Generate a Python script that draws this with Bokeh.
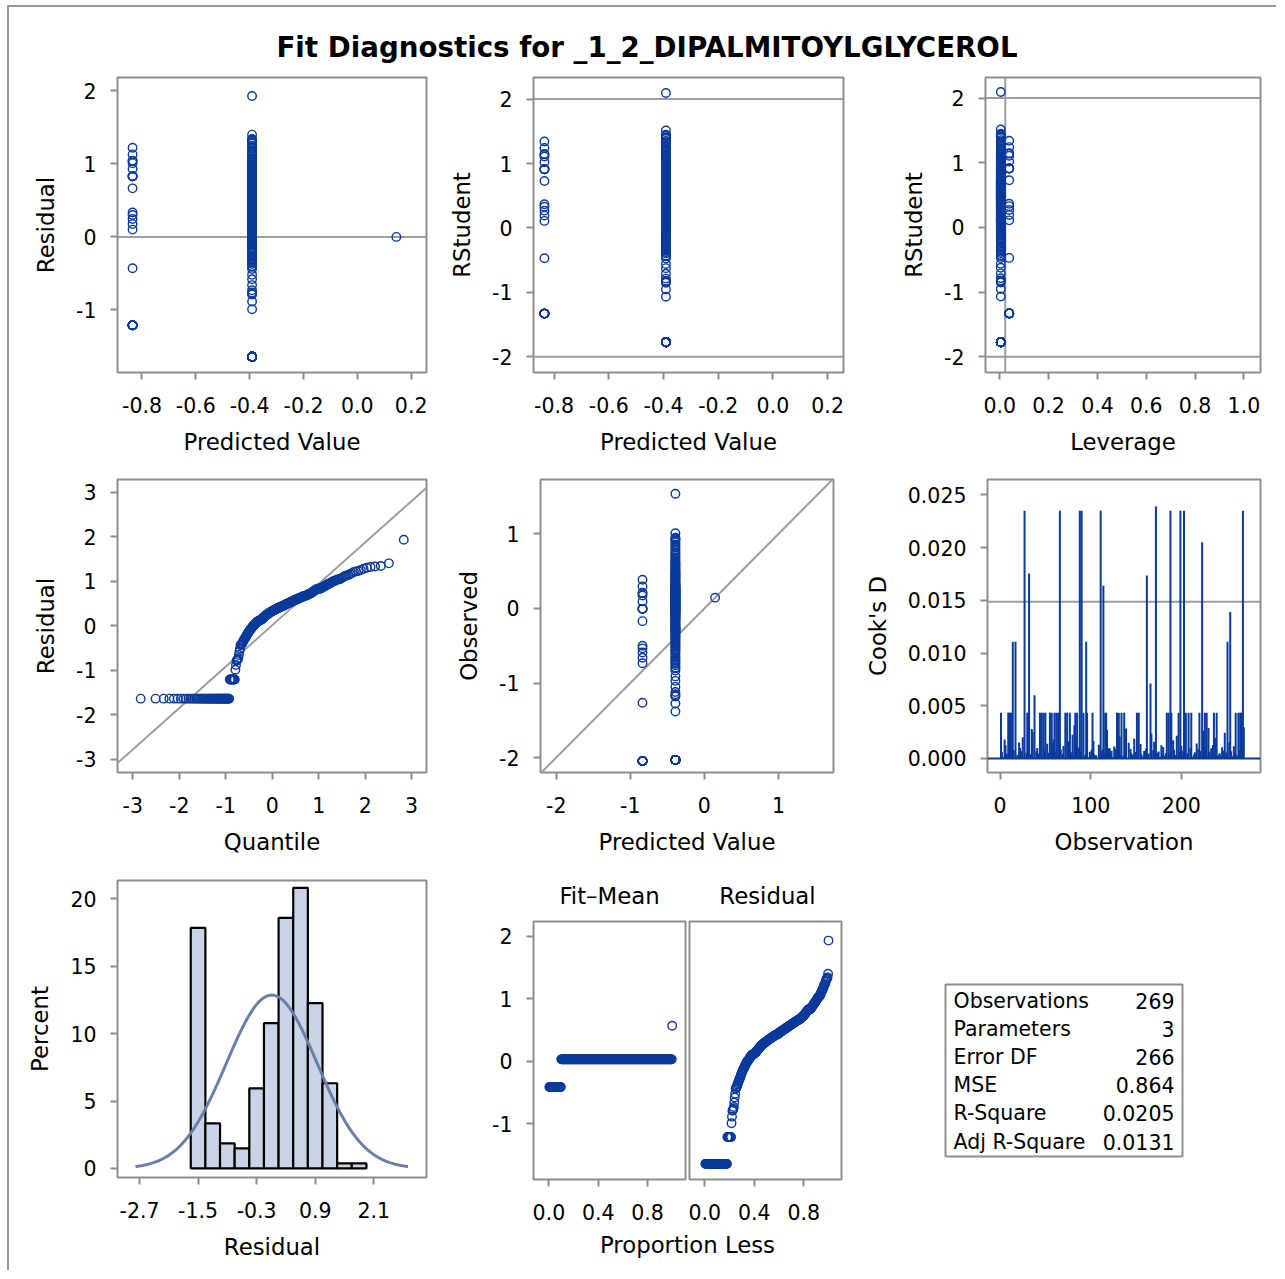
import numpy as np
from statistics import NormalDist
from bokeh.plotting import figure
from bokeh.layouts import row, column
from bokeh.models import Range1d, FixedTicker, PrintfTickFormatter, Span, Spacer, Slope
from bokeh.embed import file_html
from bokeh.resources import INLINE
from bokeh.core.properties import value

# ------------------------------------------------------------------ data
TITLE = "Fit Diagnostics for _1_2_DIPALMITOYLGLYCEROL"

stat_labels = ["Observations", "Parameters", "Error DF", "MSE", "R-Square", "Adj R-Square"]
stat_values = ["269", "3", "266", "0.864", "0.0205", "0.0131"]
N_OBS = 269
N_PARAM = 3
MSE = 0.864

# predicted value of the three fitted levels
fit_levels = [-0.835, -0.391, 0.145]

# level 1 (predicted -0.835): residuals and their observation numbers
res_g1 = [1.22, 1.13, 1.045, 1.04, 1.01, 0.93, 0.83, 0.83, 0.83, 0.83, 0.665,
          0.335, 0.30, 0.245, 0.175, 0.10, -0.43,
          -1.21, -1.21, -1.21, -1.21, -1.21, -1.21, -1.21, -1.21, -1.21]
obs_g1 = [172, 223, 32, 162, 114, 254, 14, 17, 95, 251, 166,
          5, 58, 120, 145, 232, 269,
          27, 66, 88, 90, 111, 188, 199, 203, 268]

# level 2 (predicted -0.391): observations at the lower limit
res_floor = -1.64
obs_floor = [1, 9, 10, 11, 12, 30, 31, 44, 46, 48, 50, 55, 57, 60, 62, 64, 72, 74, 77,
             83, 85, 92, 96, 102, 116, 117, 129, 131, 134, 137, 151, 153, 184, 186,
             189, 197, 205, 208, 211, 220, 226, 228, 236, 239, 260, 263, 265, 266]
# level 2: largest residuals
res_g2_big = [1.93, 1.40, 1.32, 1.33, 1.34]
obs_g2_big = [38, 82, 35, 139, 230]
# level 3 (predicted 0.145): one observation
res_g3 = [0.0]
obs_g3 = [140]
# level 2: remaining residuals, in observation order of the remaining observations
res_g2_rest = [
    0.62, 0.31, -0.09, 0.88, 0.54, 0.42, -0.33, 0.71, 0.08, 0.19,
    0.47, 0.37, 0.97, -0.79, 0.66, 0.12, 1.12, 0.26, -0.19, 0.58,
    0.50, 0.44, 1.25, 0.22, -0.03, 0.64, 0.79, -0.41, 0.56, 0.13,
    0.35, 0.69, 0.05, 0.93, 0.48, -0.58, 0.40, 1.06, 0.61, 0.28,
    -0.12, 0.73, 0.33, 0.52, 0.86, 0.10, 0.17, -0.26, 1.01, 0.60,
    0.55, 1.18, 0.41, -0.99, 0.80, 0.01, 0.67, 0.29, -0.17, 0.46,
    0.24, -0.06, 0.63, 0.38, 0.72, 1.02, 0.49, -0.37, 0.43, 0.14,
    0.09, 0.90, 0.36, 0.65, -0.73, 0.57, 1.30, 0.20, 0.77, 0.51,
    0.68, -0.14, 0.30, 0.84, 0.03, -0.76, 0.53, 1.14, 0.44, -0.23,
    0.39, 0.59, 0.11, 0.96, 0.16, 0.745, -0.44, 0.42, 1.08, 0.47,
    0.62, 0.27, 0.00, 0.92, 0.50, -0.29, 0.35, 0.66, 0.13, 0.76,
    0.43, 0.54, -0.08, 1.21, 0.21, 0.70, 0.99, 0.37, -0.52, 0.58,
    0.64, 0.06, 0.33, -0.885, 0.46, 0.82, 0.40, -0.16, 0.57, 0.12,
    0.52, 0.25, 1.04, 0.72, -0.02, 0.445, 1.16, -0.35, 0.61, 0.87,
    0.38, 0.67, 0.10, 0.18, 0.55, -0.21, 0.78, 0.31, -0.11, 0.48,
    0.60, 0.42, 0.94, 0.07, 0.74, -0.66, 0.26, 1.28, 0.51, 0.83,
    0.34, 0.63, -0.78, 0.29, 0.89, 0.14, 1.10, 0.41, -0.40, 0.56,
    0.49, 0.23, 0.81, 0.68, -0.05, 1.23, 0.39, 0.59, -0.27, 0.98,
    0.65, 0.36, 0.02, 0.85, 0.53, 0.44, -0.31, 0.70, 0.32,
]

hist_mid = [-1.5, -1.2, -0.9, -0.6, -0.3, 0.0, 0.3, 0.6, 0.9, 1.2, 1.5, 1.8]
hist_width = 0.3

panel_headers = ["Fit\u2013Mean", "Residual"]

# tick values
ticks_pred = [-0.8, -0.6, -0.4, -0.2, 0.0, 0.2]
ticks_resid_y = [-1, 0, 1, 2]
ticks_rstud = [-2, -1, 0, 1, 2]
ticks_lev = [0.0, 0.2, 0.4, 0.6, 0.8, 1.0]
ticks_q = [-3, -2, -1, 0, 1, 2, 3]
ticks_obs_pred = [-2, -1, 0, 1]
ticks_cook_y = [0.0, 0.005, 0.010, 0.015, 0.020, 0.025]
ticks_cook_x = [0, 100, 200]
ticks_hist_x = [-2.7, -1.5, -0.3, 0.9, 2.1]
ticks_hist_y = [0, 5, 10, 15, 20]
ticks_prop = [0.0, 0.4, 0.8]
ticks_rf_y = [-1, 0, 1, 2]

# ------------------------------------------------------------------ derived
resid = np.full(N_OBS, np.nan)
fit = np.full(N_OBS, np.nan)
group = np.full(N_OBS, -1)


def put(obs_list, res_list, g):
    for o, r in zip(obs_list, res_list):
        resid[o - 1] = r
        fit[o - 1] = fit_levels[g]
        group[o - 1] = g


put(obs_g1, res_g1, 0)
put(obs_floor, [res_floor] * len(obs_floor), 1)
put(obs_g2_big, res_g2_big, 1)
put(obs_g3, res_g3, 2)
rest = np.where(np.isnan(resid))[0]
assert len(rest) == len(res_g2_rest), (len(rest), len(res_g2_rest))
for i, r in zip(rest, res_g2_rest):
    resid[i] = r
    fit[i] = fit_levels[1]
    group[i] = 1

obs = np.arange(1, N_OBS + 1)
observed = fit + resid
gcount = np.bincount(group, minlength=3)
lev = 1.0 / gcount[group]
valid = lev < 0.999
dfe = N_OBS - N_PARAM
rv, lv, fv, ov = resid[valid], lev[valid], fit[valid], obs[valid]
s2_i = (dfe * MSE - rv ** 2 / (1 - lv)) / (dfe - 1)
rstud = rv / np.sqrt(s2_i * (1 - lv))
cooks = rv ** 2 / (N_PARAM * MSE) * lv / (1 - lv) ** 2

nd = NormalDist()
r_sorted = np.sort(resid)
qq_x = np.array([nd.inv_cdf((i + 1 - 0.375) / (N_OBS + 0.25)) for i in range(N_OBS)])
mean_r = resid.mean()
sd_r = resid.std(ddof=1)

edges = np.array([m - hist_width / 2 for m in hist_mid] + [hist_mid[-1] + hist_width / 2])
hcount, _ = np.histogram(resid, bins=edges)
hpct = hcount / N_OBS * 100
curve_x = np.linspace(mean_r - 3 * sd_r, mean_r + 3 * sd_r, 241)
curve_y = np.array([100 * hist_width * NormalDist(mean_r, sd_r).pdf(x) for x in curve_x])

prop = np.arange(1, N_OBS + 1) / N_OBS
fit_mean_sorted = np.sort(fit - observed.mean())

# ------------------------------------------------------------------ style
FONT = "DejaVu Sans"
BLUE = "#0A3A9C"
FRAME = "#8E8E8E"
REF = "#9D9D9D"


def make_fig(w, h, bl, br, bt, bb, xr, yr, xt=None, yt=None, xf=None, yf=None,
             xl=None, yl=None, yaxis=True, xaxis=True):
    kw = dict(width=w, height=h, x_range=Range1d(*xr), y_range=Range1d(*yr),
              output_backend="svg", toolbar_location=None,
              min_border_left=bl, min_border_right=br, min_border_top=bt, min_border_bottom=bb)
    if not xaxis:
        kw["x_axis_location"] = None
    if not yaxis:
        kw["y_axis_location"] = None
    p = figure(**kw)
    p.grid.visible = False
    p.outline_line_color = FRAME
    p.outline_line_width = 2
    p.background_fill_color = "white"
    p.border_fill_color = "white"
    for ax in p.axis:
        ax.axis_line_color = None
        ax.major_tick_line_color = FRAME
        ax.major_tick_line_width = 2
        ax.major_tick_out = 7
        ax.major_tick_in = 0
        ax.minor_tick_line_color = None
        ax.major_label_text_font = FONT
        ax.major_label_text_font_size = "20.5px"
        ax.major_label_text_color = "black"
        ax.axis_label_text_font = FONT
        ax.axis_label_text_font_size = "22.8px"
        ax.axis_label_text_font_style = "normal"
        ax.axis_label_text_color = "black"
    if xaxis:
        p.xaxis.ticker = FixedTicker(ticks=xt)
        p.xaxis.formatter = PrintfTickFormatter(format=xf)
        p.xaxis.major_label_standoff = 17
        p.xaxis.axis_label_standoff = 13
        if xl:
            p.xaxis.axis_label = xl
    if yaxis:
        p.yaxis.ticker = FixedTicker(ticks=yt)
        p.yaxis.formatter = PrintfTickFormatter(format=yf)
        p.yaxis.major_label_standoff = 14
        p.yaxis.axis_label_standoff = 14
        if yl:
            p.yaxis.axis_label = yl
    return p


def text_fig(w, h):
    p = figure(width=w, height=h, x_range=Range1d(0, w), y_range=Range1d(0, h),
               output_backend="svg", toolbar_location=None, min_border=0,
               x_axis_location=None, y_axis_location=None)
    p.grid.visible = False
    p.outline_line_color = None
    return p


def circles(p, x, y):
    p.scatter(x, y, marker="circle", size=8.5, fill_color=None, line_color=BLUE, line_width=1.4)


def hline(p, y):
    p.add_layout(Span(location=y, dimension="width", line_color=REF, line_width=2, level="underlay"))


def vline(p, x):
    p.add_layout(Span(location=x, dimension="height", line_color=REF, line_width=2, level="underlay"))


# ------------------------------------------------------------------ title
pt = text_fig(1267, 63)
pt.text(x=[637.5], y=[23], text=[TITLE], text_font=value(FONT), text_font_size="27.7px",
        text_font_style="bold", text_align="center", text_baseline="middle", text_color="black")

# ------------------------------------------------------------------ row 1
p1 = make_fig(431, 402, 108, 14, 7, 100, (-0.891, 0.257), (-1.857, 2.183),
              ticks_pred, ticks_resid_y, "%.1f", "%d", "Predicted Value", "Residual")
hline(p1, 0)
circles(p1, fit, resid)

p2 = make_fig(420, 402, 93, 17, 7, 100, (-0.875, 0.258), (-2.244, 2.335),
              ticks_pred, ticks_rstud, "%.1f", "%d", "Predicted Value", "RStudent")
hline(p2, 2)
hline(p2, -2)
circles(p2, fv, rstud)

p3 = make_fig(416, 402, 125, 16, 7, 100, (-0.0586, 1.068), (-2.243, 2.318),
              ticks_lev, ticks_rstud, "%.1f", "%d", "Leverage", "RStudent")
hline(p3, 2)
hline(p3, -2)
vline(p3, 2 * N_PARAM / N_OBS)
circles(p3, lv, rstud)

# ------------------------------------------------------------------ row 2
p4 = make_fig(431, 401, 108, 14, 7, 101, (-3.33, 3.32), (-3.30, 3.285),
              ticks_q, ticks_q, "%d", "%d", "Quantile", "Residual")
p4.add_layout(Slope(gradient=sd_r, y_intercept=mean_r, line_color=REF, line_width=2, level="underlay"))
circles(p4, qq_x, r_sorted)

p5 = make_fig(420, 401, 100, 27, 7, 101, (-2.212, 1.743), (-2.20, 1.73),
              ticks_obs_pred, ticks_obs_pred, "%d", "%d", "Predicted Value", "Observed")
p5.add_layout(Slope(gradient=1, y_intercept=0, line_color=REF, line_width=2, level="underlay"))
circles(p5, fit, observed)

p6 = make_fig(416, 401, 127, 16, 7, 101, (-13.9, 287.4), (-0.00133, 0.02645),
              ticks_cook_x, ticks_cook_y, "%d", "%.3f", "Observation", "Cook's D")
hline(p6, 4 / N_OBS)
p6.add_layout(Span(location=0, dimension="width", line_color=BLUE, line_width=2))
p6.segment(x0=ov, y0=np.zeros(len(ov)), x1=ov, y1=cooks, line_color=BLUE, line_width=2)

# ------------------------------------------------------------------ row 3
p7 = make_fig(431, 397, 108, 14, 7, 93, (-3.151, 3.181), (-0.67, 21.36),
              ticks_hist_x, ticks_hist_y, "%.1f", "%d", "Residual", "Percent")
p7.quad(left=edges[:-1], right=edges[1:], bottom=np.zeros(len(hpct)), top=hpct,
        fill_color="#CAD4E6", line_color="black", line_width=2.2)
p7.line(curve_x, curve_y, line_color="#6880A8", line_width=3)

phead = text_fig(420, 36)
phead.text(x=[169, 327], y=[14, 14], text=panel_headers, text_font=value(FONT),
           text_font_size="22.8px", text_align="center", text_baseline="middle", text_color="black")

p8a = make_fig(247, 322, 93, 2, 12, 52, (-0.125, 1.108), (-1.89, 2.235),
               ticks_prop, ticks_rf_y, "%.1f", "%d", None, None)
circles(p8a, prop, fit_mean_sorted)
p8b = make_fig(173, 322, 2, 19, 12, 52, (-0.124, 1.105), (-1.89, 2.235),
               ticks_prop, None, "%.1f", None, None, None, yaxis=False)
circles(p8b, prop, r_sorted)

plab = text_fig(420, 39)
plab.text(x=[247], y=[26], text=["Proportion Less"], text_font=value(FONT), text_font_size="22.8px",
          text_align="center", text_baseline="middle", text_color="black")

# statistics table: frame spans x 935..1192, y 880..1177 (page), box drawn inside
p9 = figure(width=416, height=397, x_range=Range1d(-10, 247), y_range=Range1d(0, 297),
            output_backend="svg", toolbar_location=None, min_border_left=75, min_border_right=84,
            min_border_top=7, min_border_bottom=93, x_axis_location=None, y_axis_location=None)
p9.grid.visible = False
p9.outline_line_color = None
p9.quad(left=[0], right=[237], bottom=[21], top=[193], fill_color=None,
        line_color=FRAME, line_width=2)
row_y = [177 - 28.2 * i for i in range(len(stat_labels))]
p9.text(x=[8] * len(stat_labels), y=row_y, text=stat_labels, text_font=value(FONT),
        text_font_size="20.5px", text_align="left", text_baseline="middle", text_color="black")
p9.text(x=[229] * len(stat_values), y=row_y, text=stat_values, text_font=value(FONT),
        text_font_size="20.5px", text_align="right", text_baseline="middle", text_color="black")

# ------------------------------------------------------------------ layout
col2_r3 = column(phead, row(p8a, p8b), plab)
content = column(
    Spacer(width=1267, height=2, styles={"background-color": "#999999"}),
    pt,
    row(p1, p2, p3),
    row(p4, p5, p6),
    row(p7, col2_r3, p9),
)
root = column(
    Spacer(width=1276, height=5),
    row(Spacer(width=7, height=1265),
        Spacer(width=2, height=1265, styles={"background-color": "#999999"}),
        content),
)

open("out.html", "w").write(file_html(root, INLINE, title="Fit Diagnostics"))
